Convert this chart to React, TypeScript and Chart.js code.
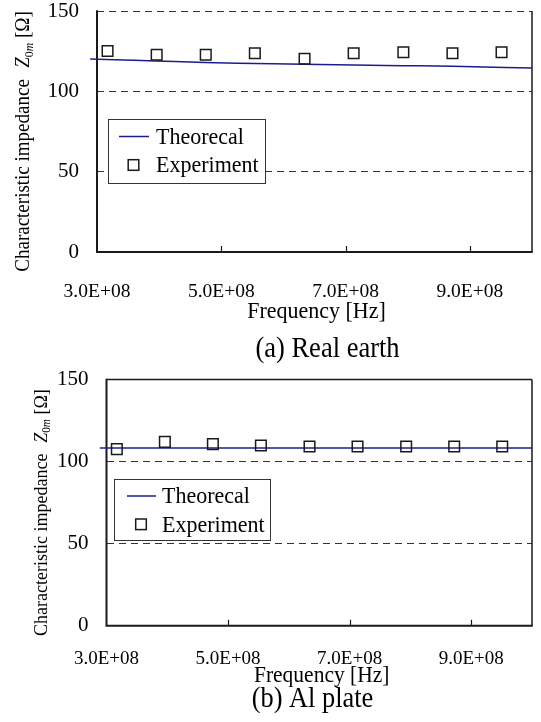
import React, { useEffect, useRef } from "react";
import { Chart, registerables } from "chart.js";

Chart.register(...registerables);

// ---------- data ----------
const xTickValues = [3e8, 5e8, 7e8, 9e8];
const xTickLabels = ["3.0E+08", "5.0E+08", "7.0E+08", "9.0E+08"];
const yTickValues = [0, 50, 100, 150];

const seriesLabels = ["Theorecal", "Experiment"];

const experimentFreq = [3.17e8, 3.96e8, 4.75e8, 5.54e8, 6.34e8, 7.13e8, 7.93e8, 8.72e8, 9.51e8];

const realEarthTheoryFreq = [2.89e8, 3.0e8, 3.95e8, 4.74e8, 5.54e8, 6.33e8, 7.13e8, 7.93e8, 8.72e8, 1.0e9];
const realEarthTheoryZ = [120.2, 120.0, 118.9, 117.9, 117.4, 116.9, 116.4, 116.0, 115.6, 114.5];
const realEarthExpZ = [125.1, 122.8, 122.8, 123.7, 120.3, 123.7, 124.3, 123.7, 124.3];

const alPlateTheoryFreq = [2.89e8, 1.0e9];
const alPlateTheoryZ = [108.2, 108.2];
const alPlateExpZ = [107.6, 112.0, 110.6, 109.8, 109.2, 109.2, 109.2, 109.2, 109.2];

const captions = ["(a) Real earth", "(b) Al plate"];
const xTitle = "Frequency [Hz]";

// ---------- styling ----------
const SERIF = '"Liberation Serif", "Times New Roman", Times, serif';
const NAVY = "#1c1c8e";
const INK = "#1a1a1a";
const STRETCH = 1.08;

type PanelCfg = {
  top: number;
  height: number;
  padTop: number;
  padRight: number;
  yWidth: number;
  plotBottom: number;
  xTickPad: number;
  xTickFont: number;
  yTickFont: number;
  yTickPad: number;
  dashedTop: boolean;
  yTitleFont: number;
  yTitleX: number;
  yTitleCenter: number;
  legend: { x: number; y: number; w: number; h: number; l1: number; l2: number; mx: number; tx: number; r1: number; r2: number; font: number };
  xTitlePos: { x: number; y: number; font: number };
  captionPos: { x: number; y: number; font: number };
};

const panelA: PanelCfg = {
  top: 0,
  height: 366,
  padTop: 11,
  padRight: 5,
  yWidth: 97,
  plotBottom: 252,
  xTickPad: 28,
  xTickFont: 19.5,
  yTickFont: 21,
  yTickPad: 18,
  dashedTop: true,
  yTitleFont: 19,
  yTitleX: 29,
  yTitleCenter: 141.5,
  legend: { x: 108, y: 118.5, w: 157, h: 63.5, l1: 11, l2: 41, mx: 25.5, tx: 48, r1: 18, r2: 46.5, font: 22 },
  xTitlePos: { x: 316.5, y: 318, font: 22 },
  captionPos: { x: 327.5, y: 357, font: 26.5 },
};

const panelB: PanelCfg = {
  top: 366,
  height: 356,
  padTop: 13.5,
  padRight: 2,
  yWidth: 106.5,
  plotBottom: 259.7,
  xTickPad: 22,
  xTickFont: 19,
  yTickFont: 21,
  yTickPad: 18,
  dashedTop: false,
  yTitleFont: 18,
  yTitleX: 46.5,
  yTitleCenter: 146.6,
  legend: { x: 114, y: 113.3, w: 156, h: 60.7, l1: 13, l2: 42, mx: 27, tx: 48, r1: 16.7, r2: 45, font: 22 },
  xTitlePos: { x: 321.7, y: 316, font: 21.5 },
  captionPos: { x: 312.5, y: 341, font: 26.4 },
};

// text drawn slightly taller than wide, like the narrow serif face of the original
function fillTall(ctx: CanvasRenderingContext2D, text: string, x: number, y: number) {
  ctx.save();
  ctx.translate(x, y);
  ctx.scale(1, STRETCH);
  ctx.fillText(text, 0, 0);
  ctx.restore();
}

function drawYTitle(ctx: CanvasRenderingContext2D, o: PanelCfg) {
  const fs = o.yTitleFont;
  const sfs = fs * 0.62;
  const main = "Characteristic impedance";
  const gap = fs * 0.6;
  ctx.save();
  ctx.translate(o.yTitleX, o.yTitleCenter);
  ctx.rotate(-Math.PI / 2);
  ctx.fillStyle = "#000";
  ctx.textAlign = "left";
  ctx.textBaseline = "alphabetic";
  ctx.font = `${fs}px ${SERIF}`;
  const wMain = ctx.measureText(main).width;
  const wBr = ctx.measureText(" [Ω]").width;
  ctx.font = `italic ${fs}px ${SERIF}`;
  const wZ = ctx.measureText("Z").width;
  ctx.font = `${sfs}px ${SERIF}`;
  const w0 = ctx.measureText("0").width;
  ctx.font = `italic ${sfs}px ${SERIF}`;
  const wm = ctx.measureText("m").width;
  const total = wMain + gap + wZ + w0 + wm + wBr;
  let x = -total / 2;
  ctx.font = `${fs}px ${SERIF}`;
  fillTall(ctx, main, x, 0);
  x += wMain + gap;
  ctx.font = `italic ${fs}px ${SERIF}`;
  fillTall(ctx, "Z", x, 0);
  x += wZ;
  ctx.font = `${sfs}px ${SERIF}`;
  fillTall(ctx, "0", x, fs * 0.22);
  x += w0;
  ctx.font = `italic ${sfs}px ${SERIF}`;
  fillTall(ctx, "m", x, fs * 0.22);
  x += wm;
  ctx.font = `${fs}px ${SERIF}`;
  fillTall(ctx, " [Ω]", x, 0);
  ctx.restore();
}

const decorPlugin = {
  id: "panelDecor",
  beforeDatasetsDraw(chart: any, _args: any, o: any) {
    const cfg: PanelCfg = o.cfg;
    const { ctx, chartArea: a } = chart;
    ctx.save();
    ctx.strokeStyle = INK;
    ctx.lineWidth = 1.5;
    ctx.beginPath();
    if (!cfg.dashedTop) {
      ctx.moveTo(a.left, a.top);
      ctx.lineTo(a.right, a.top);
    }
    ctx.moveTo(a.right, a.top);
    ctx.lineTo(a.right, a.bottom);
    ctx.stroke();
    ctx.lineWidth = 2;
    ctx.beginPath();
    ctx.moveTo(a.left, a.top - 0.75);
    ctx.lineTo(a.left, a.bottom);
    ctx.lineTo(a.right + 0.75, a.bottom);
    ctx.stroke();
    const xs = chart.scales.x;
    ctx.lineWidth = 1.2;
    ctx.beginPath();
    xTickValues.forEach((v) => {
      if (v <= xs.min) return;
      const px = Math.round(xs.getPixelForValue(v)) + 0.5;
      ctx.moveTo(px, a.bottom);
      ctx.lineTo(px, a.bottom - 6);
    });
    ctx.stroke();
    ctx.restore();
  },
  afterDatasetsDraw(chart: any, _args: any, o: any) {
    const cfg: PanelCfg = o.cfg;
    const L = cfg.legend;
    const ctx: CanvasRenderingContext2D = chart.ctx;
    const ds = chart.data.datasets;
    ctx.save();
    ctx.fillStyle = "#fff";
    ctx.fillRect(L.x, L.y, L.w, L.h);
    ctx.strokeStyle = "#333";
    ctx.lineWidth = 1;
    ctx.strokeRect(Math.round(L.x) + 0.5, Math.round(L.y) + 0.5, Math.round(L.w), Math.round(L.h));
    ctx.strokeStyle = ds[0].borderColor;
    ctx.lineWidth = ds[0].borderWidth;
    ctx.beginPath();
    ctx.moveTo(L.x + L.l1, L.y + L.r1);
    ctx.lineTo(L.x + L.l2, L.y + L.r1);
    ctx.stroke();
    const side = ds[1].pointRadius * Math.SQRT2;
    ctx.strokeStyle = ds[1].borderColor;
    ctx.lineWidth = ds[1].borderWidth;
    ctx.strokeRect(L.x + L.mx - side / 2, L.y + L.r2 - side / 2, side, side);
    ctx.fillStyle = "#000";
    ctx.font = `${L.font}px ${SERIF}`;
    ctx.textAlign = "left";
    ctx.textBaseline = "alphabetic";
    const off = L.font * 0.33;
    fillTall(ctx, ds[0].label, L.x + L.tx, L.y + L.r1 + off);
    fillTall(ctx, ds[1].label, L.x + L.tx, L.y + L.r2 + off);
    ctx.restore();
  },
  afterDraw(chart: any, _args: any, o: any) {
    const cfg: PanelCfg = o.cfg;
    const ctx: CanvasRenderingContext2D = chart.ctx;
    ctx.save();
    ctx.fillStyle = "#000";
    ctx.textAlign = "center";
    ctx.textBaseline = "alphabetic";
    ctx.font = `${cfg.xTitlePos.font}px ${SERIF}`;
    fillTall(ctx, xTitle, cfg.xTitlePos.x, cfg.xTitlePos.y);
    ctx.font = `${cfg.captionPos.font}px ${SERIF}`;
    fillTall(ctx, o.caption, cfg.captionPos.x, cfg.captionPos.y);
    ctx.restore();
    drawYTitle(ctx, cfg);
  },
};

type PanelProps = {
  cfg: PanelCfg;
  caption: string;
  theoryFreq: number[];
  theoryZ: number[];
  expFreq: number[];
  expZ: number[];
};

function Panel({ cfg, caption, theoryFreq, theoryZ, expFreq, expZ }: PanelProps) {
  const ref = useRef<HTMLCanvasElement | null>(null);
  useEffect(() => {
    const canvas = ref.current;
    if (!canvas) return;
    const chart = new Chart(canvas, {
      type: "scatter",
      data: {
        datasets: [
          {
            type: "line",
            label: seriesLabels[0],
            data: theoryFreq.map((f, i) => ({ x: f, y: theoryZ[i] })),
            borderColor: NAVY,
            borderWidth: 1.5,
            pointRadius: 0,
            fill: false,
            tension: 0.3,
            cubicInterpolationMode: "monotone",
            clip: false,
            order: 2,
          } as any,
          {
            type: "scatter",
            label: seriesLabels[1],
            data: expFreq.map((f, i) => ({ x: f, y: expZ[i] })),
            pointStyle: "rect",
            pointRadius: 7.5,
            borderColor: INK,
            borderWidth: 1.5,
            backgroundColor: "rgba(255,255,255,0)",
            order: 1,
          } as any,
        ],
      },
      options: {
        animation: false,
        responsive: false,
        devicePixelRatio: 1,
        events: [],
        layout: { padding: { top: cfg.padTop, right: cfg.padRight, left: 0, bottom: 0 } },
        plugins: {
          legend: { display: false },
          tooltip: { enabled: false },
          title: { display: false },
          panelDecor: { cfg, caption },
        } as any,
        scales: {
          x: {
            type: "linear",
            min: 3e8,
            max: 1e9,
            afterBuildTicks: (s: any) => {
              s.ticks = xTickValues.map((v) => ({ value: v }));
            },
            afterFit: (s: any) => {
              s.height = cfg.height - cfg.plotBottom;
              s.paddingLeft = 0;
              s.paddingRight = 0;
            },
            grid: { display: false, drawTicks: false },
            border: { display: false },
            ticks: {
              padding: cfg.xTickPad,
              color: "#000",
              autoSkip: false,
              maxRotation: 0,
              font: { family: SERIF, size: cfg.xTickFont },
              callback: (_v: any, i: number) => xTickLabels[i],
            },
          },
          y: {
            type: "linear",
            min: 0,
            max: 150,
            afterBuildTicks: (s: any) => {
              s.ticks = yTickValues.map((v) => ({ value: v }));
            },
            afterFit: (s: any) => {
              s.width = cfg.yWidth;
              s.paddingTop = 0;
              s.paddingBottom = 0;
            },
            grid: { color: "#333", lineWidth: 1, drawTicks: false },
            border: { display: false, dash: [7, 5] },
            ticks: {
              padding: cfg.yTickPad,
              color: "#000",
              font: { family: SERIF, size: cfg.yTickFont },
            },
          },
        } as any,
      },
      plugins: [decorPlugin as any],
    });
    return () => chart.destroy();
  }, [cfg, caption, theoryFreq, theoryZ, expFreq, expZ]);
  return (
    <canvas
      ref={ref}
      width={541}
      height={cfg.height}
      style={{ position: "absolute", left: 0, top: cfg.top, width: 541, height: cfg.height, display: "block" }}
    />
  );
}

export default function App() {
  return (
    <div style={{ position: "absolute", left: 0, top: 0, width: 541, height: 722, background: "#fff", overflow: "hidden" }}>
      <Panel
        cfg={panelA}
        caption={captions[0]}
        theoryFreq={realEarthTheoryFreq}
        theoryZ={realEarthTheoryZ}
        expFreq={experimentFreq}
        expZ={realEarthExpZ}
      />
      <Panel
        cfg={panelB}
        caption={captions[1]}
        theoryFreq={alPlateTheoryFreq}
        theoryZ={alPlateTheoryZ}
        expFreq={experimentFreq}
        expZ={alPlateExpZ}
      />
    </div>
  );
}
